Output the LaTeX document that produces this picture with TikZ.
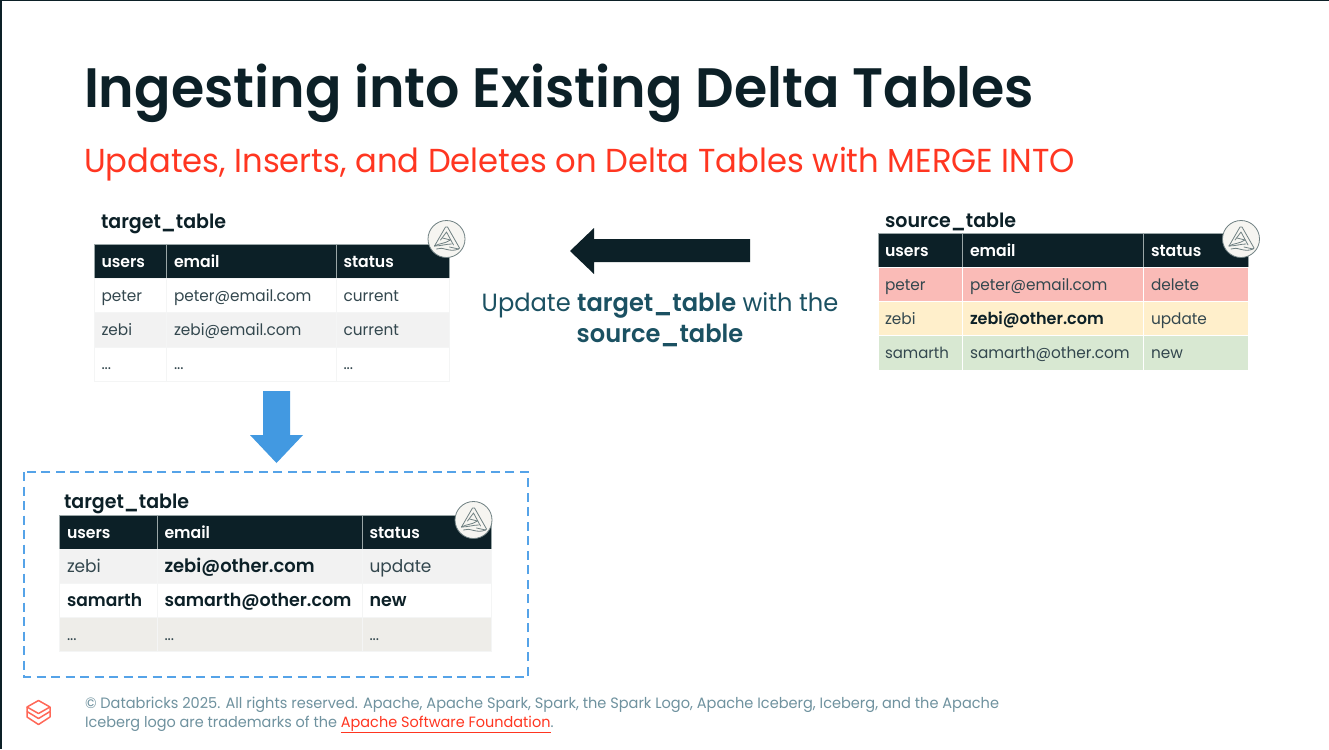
\documentclass[tikz,border=0pt]{standalone}
\usepackage{fontspec}
\setmainfont{Poppins}[FakeStretch=0.97,BoldFont={Poppins SemiBold},BoldFeatures={FakeStretch=0.97}]
\usetikzlibrary{calc}
\definecolor{navy}{HTML}{0C2027}
\definecolor{dbred}{HTML}{FF3621}
\definecolor{tealtxt}{HTML}{1B5162}
\definecolor{cellink}{HTML}{33474E}
\definecolor{footc}{HTML}{6F929F}
\definecolor{bluearr}{HTML}{4299E1}
\definecolor{dashc}{HTML}{55A3E8}
\definecolor{rowgrey}{HTML}{F2F2F2}
\definecolor{rowoat}{HTML}{EEEDE9}
\definecolor{rowred}{HTML}{FABBB7}
\definecolor{rowyel}{HTML}{FFEFCB}
\definecolor{rowgrn}{HTML}{D8E8D2}
\definecolor{hairline}{HTML}{F4F5F5}
\definecolor{logofill}{HTML}{F6F5F1}
\definecolor{logoline}{HTML}{6F8082}
\newcommand{\fs}[1]{\fontsize{#1}{#1}\selectfont}
\tikzset{
  x=1pt,y=-1pt,
  txt/.style={anchor=base west,inner sep=0pt,outer sep=0pt},
  tabname/.style={txt,font=\fs{19.6}\bfseries,text=navy},
  head/.style={txt,font=\fs{16.2}\bfseries,text=white},
  cel/.style={txt,font=\fs{15.8},text=cellink},
  celb/.style={txt,font=\fs{16.5}\bfseries,text=navy},
  rowbox/.style={draw=hairline,line width=.7pt},
  headbox/.style={fill=navy,draw=logoline!70,line width=.7pt},
  hilite/.style={draw=white,line width=.8pt},
  badge/.style={circle,minimum size=37pt,inner sep=0pt,fill=logofill,draw=logoline,line width=.8pt},
}
% row background: x0 x1 x2 x3 ytop ybottom style
\newcommand{\rowcells}[7]{%
  \begin{scope}[xshift=-0.25pt]
  \path[#7] (#1,#5) rectangle (#2,#6);
  \path[#7] (#2,#5) rectangle (#3,#6);
  \path[#7] (#3,#5) rectangle (#4,#6);
  \end{scope}
}
% small delta icon on a badge
\newcommand{\deltaicon}[1]{%
  \begin{scope}[shift={(#1.center)},draw=logoline,line width=.8pt,line join=round,line cap=round]
    \draw (-12,7) -- (-1,-12) -- (1,-12) -- (13,9) -- (12,10) -- (3,8);
    \draw (-6,1) -- (0,-7) -- (7,6);
    \draw (-12,7) .. controls (-7,4) and (-2,5) .. (4,1) -- (-4,-1);
    \draw (-12,7) .. controls (-6,7) and (0,5) .. (5,5);
    \draw (-10,10) .. controls (-4,7) and (3,14) .. (12,10);
  \end{scope}
}
\begin{document}
\begin{tikzpicture}
\useasboundingbox (0,0) rectangle (1329,749);
\fill[white] (0,0) rectangle (1329,749);
\fill[navy] (0,0) rectangle (2,749);
\fill[navy] (0,0) rectangle (1329,1);

% headings
\node[txt,font=\fs{55.5}\bfseries,text=navy] (title) at (84,107) {Ingesting into Existing Delta Tables};
\node[txt,font=\fs{33.2},text=dbred] (subtitle) at (84,172) {Updates, Inserts, and Deletes on Delta Tables with MERGE INTO};

% ---- first target table
\node[tabname] (tname) at (101,228) {target\_table};
\rowcells{95}{167}{337}{450}{244}{278}{headbox,fill=navy}
\rowcells{95}{167}{337}{450}{278}{312}{rowbox}
\rowcells{95}{167}{337}{450}{312}{347}{rowbox,fill=rowgrey}
\rowcells{95}{167}{337}{450}{347}{381}{rowbox}
\node[head] (ta1) at (101.5,267) {users};
\node[head] (ta2) at (174,267) {email};
\node[head] (ta3) at (343.5,267) {status};
\node[cel] (tb1) at (101.5,301) {peter};
\node[cel] (tb2) at (174,301) {peter@email.com};
\node[cel] (tb3) at (343.5,301) {current};
\node[cel] (tc1) at (101.5,335.5) {zebi};
\node[cel] (tc2) at (174,335.5) {zebi@email.com};
\node[cel] (tc3) at (343.5,335.5) {current};
\node[cel] (td1) at (101.5,369) {...};
\node[cel] (td2) at (174,369) {...};
\node[cel] (td3) at (343.5,369) {...};
\node[badge] (tbadge) at (446.5,239) {};
\deltaicon{tbadge}

% ---- source table
\node[tabname] (sname) at (885,227) {source\_table};
\rowcells{879}{963}{1144}{1249}{233}{267}{headbox,fill=navy}
\rowcells{879}{963}{1144}{1249}{267}{301}{hilite,fill=rowred}
\rowcells{879}{963}{1144}{1249}{301}{335.5}{hilite,fill=rowyel}
\rowcells{879}{963}{1144}{1249}{335.5}{370}{hilite,fill=rowgrn}
\node[head] (sa1) at (885,256) {users};
\node[head] (sa2) at (970,256) {email};
\node[head] (sa3) at (1151,256) {status};
\node[cel] (sb1) at (885,290) {peter};
\node[cel] (sb2) at (970,290) {peter@email.com};
\node[cel] (sb3) at (1151,290) {delete};
\node[cel] (sc1) at (885,324) {zebi};
\node[celb] (sc2) at (970,324) {zebi@other.com};
\node[cel] (sc3) at (1151,324) {update};
\node[cel,font=\fs{15.4}] (sd1) at (885,358) {samarth};
\node[cel] (sd2) at (970,358) {samarth@other.com};
\node[cel] (sd3) at (1151,358) {new};
\node[badge] (sbadge) at (1241,239) {};
\deltaicon{sbadge}

% ---- direction arrows
\fill[navy] (750,239) -- (594,239) -- (594,228) -- (570,251) -- (594,274) -- (594,262) -- (750,262) -- cycle;
\fill[bluearr] (263,391) -- (290,391) -- (290,435) -- (303,435) -- (276.5,463) -- (250,435) -- (263,435) -- cycle;

% ---- caption
\node[font=\fs{24.9},text=tealtxt,anchor=base,inner sep=0pt] (cap1) at (660,311) {Update \textbf{target\_table} with the};
\node[font=\fs{24.9}\bfseries,text=tealtxt,anchor=base,inner sep=0pt] (cap2) at (660,342) {source\_table};

% ---- result table
\draw[dashc,line width=2pt,dash pattern=on 9pt off 5.5pt] (24,472) rectangle (528,677);
\node[tabname] (rname) at (64,508) {target\_table};
\rowcells{60}{158}{363}{492}{515}{549}{headbox,fill=navy}
\rowcells{60}{158}{363}{492}{549}{583}{rowbox,fill=rowgrey}
\rowcells{60}{158}{363}{492}{583}{617}{rowbox}
\rowcells{60}{158}{363}{492}{617}{651}{rowbox,fill=rowoat}
\node[head] (ra1) at (67,538) {users};
\node[head] (ra2) at (164.5,538) {email};
\node[head] (ra3) at (369.5,538) {status};
\node[cel,font=\fs{17.5}] (rb1) at (67,572) {zebi};
\node[celb,font=\fs{18.5}\bfseries] (rb2) at (164.5,572) {zebi@other.com};
\node[cel,font=\fs{17.5}] (rb3) at (369.5,572) {update};
\node[celb,font=\fs{17.6}\bfseries] (rc1) at (67,606.5) {samarth};
\node[celb,font=\fs{18}\bfseries] (rc2) at (164.5,606.5) {samarth@other.com};
\node[celb,font=\fs{18}\bfseries] (rc3) at (369.5,606.5) {new};
\node[cel] (rd1) at (67,640) {...};
\node[cel] (rd2) at (164.5,640) {...};
\node[cel] (rd3) at (369.5,640) {...};
\node[badge] (rbadge) at (473.5,520) {};
\deltaicon{rbadge}

% ---- footer
\begin{scope}[draw=dbred!75!white,line width=1.5pt,line join=round]
  \draw (38.5,700.5) -- (50,707) -- (38.5,713.5) -- (27,707) -- cycle;
  \draw (27,707) -- (27,711.5) -- (38.5,718.5) -- (50,711.5) -- (50,707);
  \draw (27,711.5) -- (27,717) -- (38.5,724.5) -- (50,717) -- (50,711.5);
\end{scope}
\node[txt,font=\fs{15},text=footc] (foot1) at (85,708) {© Databricks 2025. All rights reserved. Apache, Apache Spark, Spark, the Spark Logo, Apache Iceberg, Iceberg, and the Apache};
\node[txt,font=\fs{14.9},text=footc] (foot2) at (85,727) {Iceberg logo are trademarks of the \textcolor{dbred}{\underline{Apache Software Foundation}}.};
\end{tikzpicture}
\end{document}
